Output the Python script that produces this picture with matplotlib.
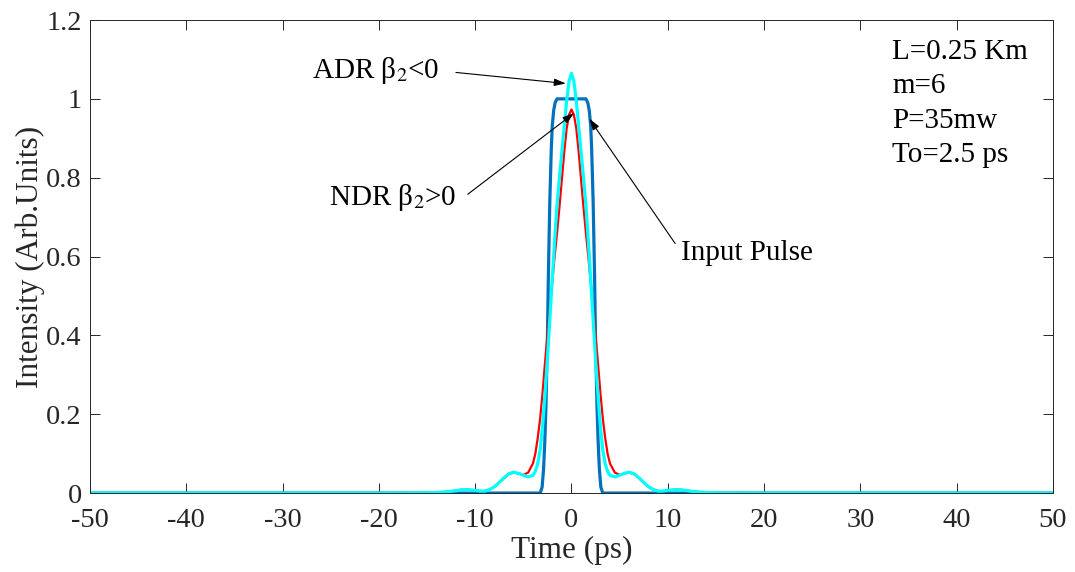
import numpy as np
import matplotlib
matplotlib.use('Agg')
import matplotlib.pyplot as plt

plt.rcParams['font.family'] = ['Liberation Serif', 'DejaVu Serif']
plt.rcParams['mathtext.fontset'] = 'stix'
plt.rcParams['axes.unicode_minus'] = False

# time axis (ps) shared by the two propagated pulses
t = [-50, -20, -16, -14, -13, -12, -11.5, -11, -10.5, -10, -9.5, -9, -8.5, -8,
     -7.5, -7, -6.5, -6, -5.5, -5, -4.5, -4, -3.75, -3.5, -3.25, -3, -2.75,
     -2.5, -2.25, -2, -1.75, -1.5, -1.25, -1, -0.75, -0.5, -0.25, 0,
     0.25, 0.5, 0.75, 1, 1.25, 1.5, 1.75, 2, 2.25, 2.5, 2.75, 3, 3.25, 3.5,
     3.75, 4, 4.5, 5, 5.5, 6, 6.5, 7, 7.5, 8, 8.5, 9, 9.5, 10, 10.5, 11,
     11.5, 12, 13, 14, 16, 20, 50]

# NDR (beta2 > 0), red
ndr = [0, 0, 0.0005, 0.0015, 0.003, 0.006, 0.008, 0.009, 0.008, 0.007, 0.005,
       0.005, 0.009, 0.016, 0.027, 0.038, 0.048, 0.052, 0.05, 0.046, 0.052,
       0.075, 0.1, 0.14, 0.19, 0.255, 0.33, 0.4, 0.47, 0.535, 0.6, 0.66,
       0.725, 0.795, 0.865, 0.925, 0.96, 0.973,
       0.96, 0.925, 0.865, 0.795, 0.725, 0.66, 0.6, 0.535, 0.47, 0.4, 0.33,
       0.255, 0.19, 0.14, 0.1, 0.075, 0.052, 0.046, 0.05, 0.052, 0.048,
       0.038, 0.027, 0.016, 0.009, 0.005, 0.005, 0.007, 0.008, 0.009, 0.008,
       0.006, 0.003, 0.0015, 0.0005, 0, 0]

# ADR (beta2 < 0), cyan
adr = [0, 0, 0.0005, 0.0015, 0.003, 0.006, 0.008, 0.009, 0.008, 0.007, 0.005,
       0.005, 0.009, 0.016, 0.027, 0.039, 0.049, 0.053, 0.05, 0.045, 0.041,
       0.045, 0.055, 0.075, 0.11, 0.17, 0.25, 0.34, 0.44, 0.54, 0.64, 0.73,
       0.8, 0.865, 0.93, 0.995, 1.045, 1.065,
       1.045, 0.995, 0.93, 0.865, 0.8, 0.73, 0.64, 0.54, 0.44, 0.34, 0.25,
       0.17, 0.11, 0.075, 0.055, 0.045, 0.041, 0.045, 0.05, 0.053, 0.049,
       0.039, 0.027, 0.016, 0.009, 0.005, 0.005, 0.007, 0.008, 0.009, 0.008,
       0.006, 0.003, 0.0015, 0.0005, 0, 0]

# input super-Gaussian pulse, blue
t_in = [-50, -3.25, -3.05, -2.9, -2.77, -2.65, -2.5, -2.4, -2.25, -2.1, -2.0,
        -1.85, -1.7, -1.5, 0, 1.5, 1.7, 1.85, 2.0, 2.1, 2.25, 2.4, 2.5, 2.65,
        2.77, 2.9, 3.05, 3.25, 50]
inp = [0, 0, 0.015, 0.06, 0.13, 0.22, 0.39, 0.55, 0.74, 0.87, 0.93, 0.97,
       0.99, 1.0, 1.0, 1.0, 0.99, 0.97, 0.93, 0.87, 0.74, 0.55, 0.39, 0.22,
       0.13, 0.06, 0.015, 0, 0]

params = ['L=0.25 Km', 'm=6', 'P=35mw', 'To=2.5 ps']

dark = '#262626'
fig = plt.figure(figsize=(10.75, 5.72), dpi=100)
ax = fig.add_axes([0.0837, 0.138, 0.8958, 0.827])

ax.plot(t_in, inp, color='#0072BD', lw=2.3)
ax.plot(t, ndr, color='red', lw=1.6)
ax.plot(t, adr, color='cyan', lw=2.3)

ax.set_xlim(-50, 50)
ax.set_ylim(0, 1.2)
ax.set_xticks(np.arange(-50, 51, 10))
ax.set_yticks([0, 0.2, 0.4, 0.6, 0.8, 1, 1.2])
ax.set_yticklabels(['0', '0.2', '0.4', '0.6', '0.8', '1', '1.2'])
ax.tick_params(direction='in', top=True, right=True, length=7.2, width=0.7,
               colors=dark, labelsize=20.5)
ax.tick_params(axis='x', pad=11)
ax.tick_params(axis='y', pad=6)
for s in ax.spines.values():
    s.set_linewidth(0.7)
    s.set_color(dark)
ax.set_xlabel('Time (ps)', fontsize=22.5, color=dark, labelpad=2)
ax.set_ylabel('Intensity (Arb.Units)', fontsize=22.5, color=dark, labelpad=1)

arrow = dict(arrowstyle='-|>,head_length=0.7,head_width=0.22', color='k',
             lw=0.8, shrinkA=0, shrinkB=0)
ax.annotate('', xy=(-0.58, 1.039), xytext=(-12.0, 1.067), arrowprops=arrow)
ax.annotate('', xy=(0.28, 0.964), xytext=(-10.77, 0.758), arrowprops=arrow)
ax.annotate('', xy=(1.84, 0.95), xytext=(10.77, 0.633), arrowprops=arrow)

ax.text(-26.9, 1.073, r'ADR β$_2$<0', fontsize=21, va='center', ha='left')
ax.text(-25.2, 0.75, r'NDR β$_2$>0', fontsize=21, va='center', ha='left')
ax.text(11.4, 0.608, 'Input Pulse', fontsize=21, va='center', ha='left')

for i, line in enumerate(params):
    ax.text(33.3, 1.118 - 0.0865 * i, line, fontsize=21, va='center', ha='left')

fig.savefig('out.png', dpi=100)
